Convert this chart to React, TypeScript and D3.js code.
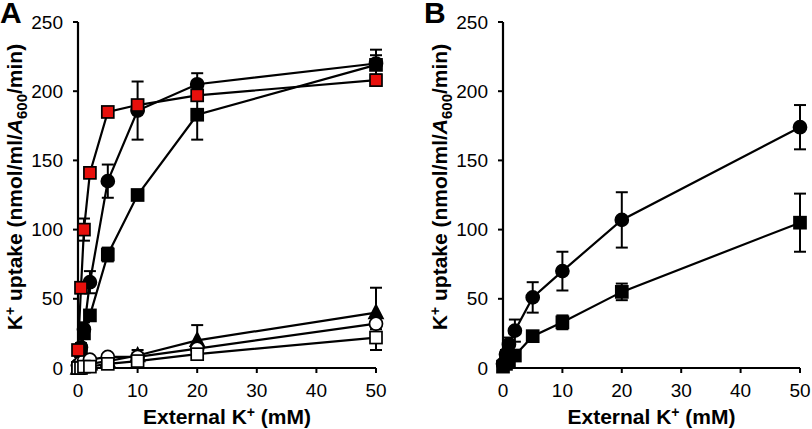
import React from 'react';
import * as d3 from 'd3';

// K+ concentrations (mM)
const concA = [0, 0.5, 1, 2, 5, 10, 20, 50];
const concB = [0, 0.5, 1, 2, 5, 10, 20, 50];

// panel A series
const redSq = [13, 58, 100, 141, 185, 190, 197, 208];
const redSqErr = [2, 4, 8, 3, 3, 3, 3, 2];
const blkCirc = [2, 15, 28, 62, 135, 186, 205, 220];
const blkCircErr = [1, 3, 5, 8, 12, 21, 8, 10];
const blkSq = [0, 12, 25, 38, 82, 125, 183, 219];
const blkSqErr = [1, 2, 3, 3, 5, 3, 18, 7];
const triA = [0, 1, 2, 3, 5, 9, 20, 40];
const triErr = [0, 1, 1, 1, 2, 4, 11, 18];
const openCirc = [2, 4, 5, 6, 8, 8, 14, 32];
const openCircErr = [1, 1, 1, 1, 2, 3, 3, 4];
const openSq = [0, 0, 1, 1, 3, 5, 10, 22];
const openSqErr = [0, 0, 1, 1, 1, 2, 3, 9];

// panel B series
const circB = [3, 10, 17, 27, 51, 70, 107, 174];
const circBErr = [1, 3, 5, 8, 11, 14, 20, 16];
const sqB = [1, 3, 5, 9, 23, 33, 55, 105];
const sqBErr = [1, 1, 2, 2, 2, 5, 6, 21];

const yTicks = [0, 50, 100, 150, 200, 250];
const xTicks = [0, 10, 20, 30, 40, 50];

const FONT = '"Liberation Sans", Arial, Helvetica, sans-serif';
const RED = '#e8100c';

type Marker = 'sq' | 'circ' | 'tri';
type Series = { x: number[]; y: number[]; err: number[]; marker: Marker; fill: string };

const Marker = ({ cx, cy, marker, fill }: { cx: number; cy: number; marker: Marker; fill: string }) => {
  const s = 12;
  if (marker === 'sq')
    return <rect x={cx - s / 2} y={cy - s / 2} width={s} height={s} fill={fill} stroke="#000" strokeWidth={1.7} />;
  if (marker === 'circ') return <circle cx={cx} cy={cy} r={6.5} fill={fill} stroke="#000" strokeWidth={1.7} />;
  const h = 13;
  return (
    <path
      d={`M${cx},${cy - h * 0.6}L${cx + 7},${cy + h * 0.45}L${cx - 7},${cy + h * 0.45}Z`}
      fill={fill}
      stroke="#000"
      strokeWidth={1.7}
    />
  );
};

const Panel = ({
  letter,
  letterX,
  axisX,
  xEnd,
  series,
}: {
  letter: string;
  letterX: number;
  axisX: number;
  xEnd: number;
  series: Series[];
}) => {
  const x = d3.scaleLinear().domain([0, 50]).range([axisX, xEnd]);
  const y = d3.scaleLinear().domain([0, 250]).range([368, 22]);
  const line = d3
    .line<[number, number]>()
    .x((d) => x(d[0]))
    .y((d) => y(d[1]));
  const mid = (axisX + xEnd) / 2;

  return (
    <g fontFamily={FONT}>
      <text x={letterX} y={23} fontSize={30} fontWeight="bold">
        {letter}
      </text>

      {/* y label */}
      <text
        transform={`translate(${axisX - 56},${187}) rotate(-90)`}
        textAnchor="middle"
        fontSize={21}
        fontWeight="bold"
      >
        <tspan>K</tspan>
        <tspan dy={-7} fontSize={14}>+</tspan>
        <tspan dy={7}> uptake (nmol/ml/</tspan>
        <tspan fontStyle="italic">A</tspan>
        <tspan dy={5} fontSize={15}>600</tspan>
        <tspan dy={-5}>/min)</tspan>
      </text>

      {/* axes */}
      <line x1={axisX} x2={axisX} y1={y(250)} y2={y(0)} stroke="#000" strokeWidth={2.2} />
      <line x1={axisX} x2={x(50)} y1={y(0)} y2={y(0)} stroke="#000" strokeWidth={2.2} />
      {yTicks.map((t) => (
        <g key={'y' + t}>
          <line x1={axisX - 5} x2={axisX} y1={y(t)} y2={y(t)} stroke="#000" strokeWidth={2} />
          <text x={axisX - 15} y={y(t)} dy="0.35em" textAnchor="end" fontSize={19}>
            {t}
          </text>
        </g>
      ))}
      {xTicks.map((t) => (
        <g key={'x' + t}>
          <line x1={x(t)} x2={x(t)} y1={y(0)} y2={y(0) + 5} stroke="#000" strokeWidth={2} />
          <text x={x(t)} y={397} textAnchor="middle" fontSize={19}>
            {t}
          </text>
        </g>
      ))}

      {/* x label */}
      <text x={mid} y={424} textAnchor="middle" fontSize={21} fontWeight="bold">
        <tspan>External K</tspan>
        <tspan dy={-7} fontSize={14}>+</tspan>
        <tspan dy={7}> (mM)</tspan>
      </text>

      {/* error bars */}
      {series.map((s, i) => (
        <g key={'e' + i}>
          {s.x.map((xv, j) =>
            s.err[j] > 0 ? (
              <g key={j} stroke="#000" strokeWidth={2}>
                <line x1={x(xv)} x2={x(xv)} y1={y(s.y[j] - s.err[j])} y2={y(s.y[j] + s.err[j])} />
                <line x1={x(xv) - 6} x2={x(xv) + 6} y1={y(s.y[j] + s.err[j])} y2={y(s.y[j] + s.err[j])} />
                <line x1={x(xv) - 6} x2={x(xv) + 6} y1={y(s.y[j] - s.err[j])} y2={y(s.y[j] - s.err[j])} />
              </g>
            ) : null
          )}
        </g>
      ))}

      {/* lines */}
      {series.map((s, i) => (
        <path
          key={'l' + i}
          d={line(s.x.map((xv, j) => [xv, s.y[j]] as [number, number])) || ''}
          fill="none"
          stroke="#000"
          strokeWidth={2.2}
        />
      ))}

      {/* markers */}
      {series.map((s, i) => (
        <g key={'m' + i}>
          {s.x.map((xv, j) => (
            <Marker key={j} cx={x(xv)} cy={y(s.y[j])} marker={s.marker} fill={s.fill} />
          ))}
        </g>
      ))}
    </g>
  );
};

const App = () => {
  const seriesA: Series[] = [
    { x: concA, y: blkSq, err: blkSqErr, marker: 'sq', fill: '#000' },
    { x: concA, y: blkCirc, err: blkCircErr, marker: 'circ', fill: '#000' },
    { x: concA, y: triA, err: triErr, marker: 'tri', fill: '#000' },
    { x: concA, y: openCirc, err: openCircErr, marker: 'circ', fill: '#fff' },
    { x: concA, y: openSq, err: openSqErr, marker: 'sq', fill: '#fff' },
    { x: concA, y: redSq, err: redSqErr, marker: 'sq', fill: RED },
  ];
  const seriesB: Series[] = [
    { x: concB, y: sqB, err: sqBErr, marker: 'sq', fill: '#000' },
    { x: concB, y: circB, err: circBErr, marker: 'circ', fill: '#000' },
  ];

  return (
    <svg
      width={812}
      height={429}
      style={{ position: 'absolute', left: 0, top: 0, background: '#fff' }}
    >
      <Panel letter="A" letterX={0} axisX={78} xEnd={376} series={seriesA} />
      <Panel letter="B" letterX={424} axisX={503} xEnd={800} series={seriesB} />
    </svg>
  );
};

export default App;
